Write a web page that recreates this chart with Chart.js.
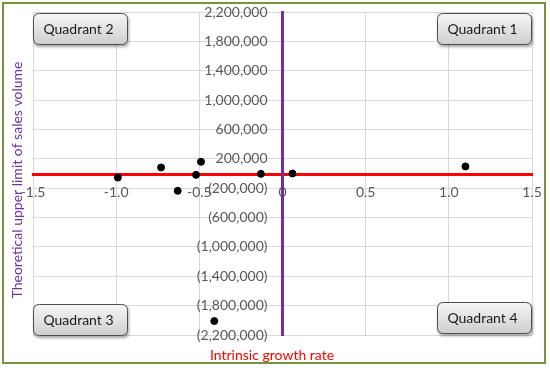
<!DOCTYPE html>
<html>
<head>
<meta charset="utf-8">
<script src="https://cdn.jsdelivr.net/npm/chart.js@4"></script>
<style>
  html, body { margin: 0; padding: 0; background: #fff; }
  #wrap { width: 550px; height: 371px; }
</style>
</head>
<body>
<div id="wrap"><canvas id="quadChart" width="550" height="371"></canvas></div>
<script>
// values
const growthRate = [-0.99, -0.73, -0.63, -0.52, -0.49, -0.13, 0.06, 1.10, -0.41];
const salesLimit = [-55000, 82000, -236000, -18000, 160000, -5000, 0, 96000, -2010000];

const xTicks = [-1.5, -1, -0.5, 0, 0.5, 1, 1.5];
const yTicks = [2200000, 1800000, 1400000, 1000000, 600000, 200000,
                -200000, -600000, -1000000, -1400000, -1800000, -2200000];

const quadrantNames = ["Quadrant 1", "Quadrant 2", "Quadrant 3", "Quadrant 4"];

const xTitle = "Intrinsic growth rate";
const yTitle = "Theoretical upper limit of sales volume";

const FONT = "Lato, 'Open Sans', sans-serif";

const fmt = v => {
  const s = Math.abs(v).toLocaleString("en-US");
  return v < 0 ? `(${s})` : s;
};

function roundRect(ctx, x, y, w, h, r) {
  ctx.beginPath();
  ctx.moveTo(x + r, y);
  ctx.lineTo(x + w - r, y);
  ctx.quadraticCurveTo(x + w, y, x + w, y + r);
  ctx.lineTo(x + w, y + h - r);
  ctx.quadraticCurveTo(x + w, y + h, x + w - r, y + h);
  ctx.lineTo(x + r, y + h);
  ctx.quadraticCurveTo(x, y + h, x, y + h - r);
  ctx.lineTo(x, y + r);
  ctx.quadraticCurveTo(x, y, x + r, y);
  ctx.closePath();
}

// centred y axis ignores ticks.padding, so push its labels left here
const yLabelGap = {
  id: "yLabelGap",
  afterLayout(chart) {
    const s = chart.scales.y;
    const items = s._computeLabelItems(chart.chartArea);
    items.forEach(it => { it.options.translation[0] -= 15; });
    s._labelItems = items;
  }
};

// titles, quadrant buttons and the green frame
const decor = {
  id: "decor",
  afterDraw(chart) {
    const ctx = chart.ctx;
    const a = chart.chartArea;
    ctx.save();

    // quadrant boxes
    const bw = 95, bh = 32;
    const spots = [
      [a.right - bw, a.top + 1],
      [a.left, a.top + 1],
      [a.left, a.bottom - bh + 1],
      [a.right - bw, a.bottom - bh - 1]
    ];
    quadrantNames.forEach((name, i) => {
      const [x, y] = spots[i];
      ctx.save();
      ctx.shadowColor = "rgba(0,0,0,0.35)";
      ctx.shadowBlur = 3;
      ctx.shadowOffsetX = 1;
      ctx.shadowOffsetY = 2;
      const g = ctx.createLinearGradient(0, y, 0, y + bh);
      g.addColorStop(0, "#f7f7f7");
      g.addColorStop(1, "#cdcdcd");
      roundRect(ctx, x, y, bw, bh, 6);
      ctx.fillStyle = g;
      ctx.fill();
      ctx.restore();
      roundRect(ctx, x + 0.5, y + 0.5, bw - 1, bh - 1, 6);
      ctx.strokeStyle = "#4d4d4d";
      ctx.lineWidth = 1;
      ctx.stroke();
      ctx.fillStyle = "#1a1a1a";
      ctx.font = `14px ${FONT}`;
      ctx.textAlign = "center";
      ctx.textBaseline = "middle";
      ctx.fillText(name, x + bw / 2 - 2, y + bh / 2);
    });

    // axis titles
    ctx.font = `14px ${FONT}`;
    ctx.textAlign = "center";
    ctx.textBaseline = "middle";
    ctx.fillStyle = "#ff0000";
    ctx.fillText(xTitle, 272, 355);

    ctx.save();
    ctx.translate(17, 180);
    ctx.rotate(-Math.PI / 2);
    ctx.fillStyle = "#7030a0";
    ctx.fillText(yTitle, 0, 0);
    ctx.restore();

    // frame
    ctx.strokeStyle = "#77933c";
    ctx.lineWidth = 2;
    ctx.strokeRect(3, 3, 542, 360);
    ctx.restore();
  }
};

new Chart(document.getElementById("quadChart").getContext("2d"), {
  type: "scatter",
  data: {
    datasets: [{
      label: "Products",
      data: growthRate.map((x, i) => ({ x, y: salesLimit[i] })),
      backgroundColor: "#000",
      borderColor: "#000",
      pointRadius: 3.5,
      pointHoverRadius: 3.5
    }]
  },
  options: {
    responsive: false,
    animation: false,
    events: [],
    layout: { padding: { left: 33, top: 12, right: 18, bottom: 36 } },
    plugins: {
      legend: { display: false },
      tooltip: { enabled: false }
    },
    scales: {
      // both ranges are symmetric, so "center" puts each axis at zero
      x: {
        type: "linear",
        position: "center",
        min: -1.5,
        max: 1.5,
        afterBuildTicks: s => { s.ticks = xTicks.map(value => ({ value })); },
        grid: { color: "#d9d9d9", drawTicks: true, tickLength: 11, tickColor: "rgba(0,0,0,0)" },
        border: { color: "#ff0000", width: 3 },
        ticks: {
          autoSkip: false,
          maxRotation: 0,
          padding: 0,
          color: "#595959",
          font: { family: FONT, size: 14 }
        }
      },
      y: {
        type: "linear",
        position: "center",
        min: -2200000,
        max: 2200000,
        afterBuildTicks: s => { s.ticks = yTicks.map(value => ({ value })); },
        grid: { color: "#d9d9d9", drawTicks: false },
        border: { color: "#7030a0", width: 3 },
        ticks: {
          autoSkip: false,
          padding: 0,
          color: "#595959",
          font: { family: FONT, size: 14 },
          callback: v => fmt(v)
        }
      }
    }
  },
  plugins: [yLabelGap, decor]
});
</script>
</body>
</html>
